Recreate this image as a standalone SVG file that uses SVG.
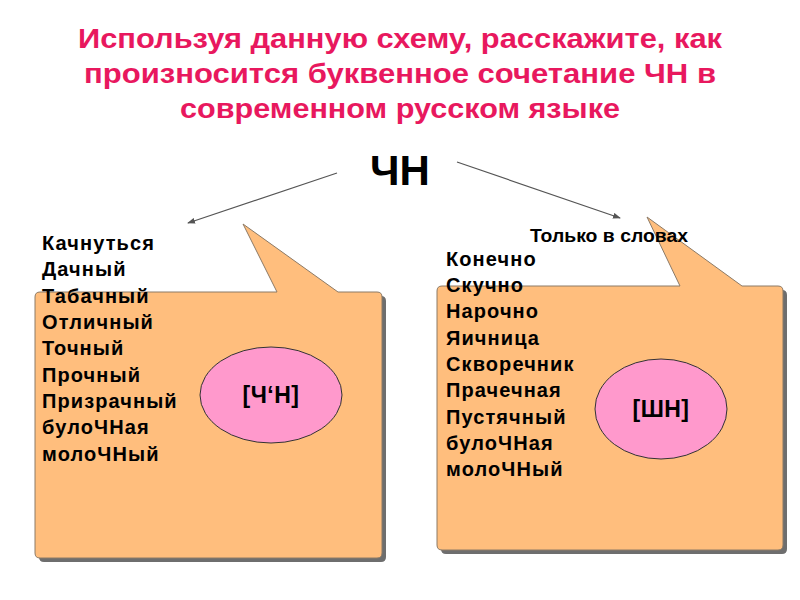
<svg xmlns="http://www.w3.org/2000/svg" width="800" height="600" viewBox="0 0 800 600">
<defs>
<style>
.title{font-family:"Liberation Sans",Arial,sans-serif;font-weight:bold;font-size:28px;fill:#E8185E;text-anchor:middle}
.word{font-family:"Liberation Sans",Arial,sans-serif;font-weight:bold;font-size:20px;fill:#000;letter-spacing:1.1px}
.lbl{font-family:"Liberation Sans",Arial,sans-serif;font-weight:bold;font-size:23px;fill:#000;text-anchor:middle;letter-spacing:0.5px}
.box{fill:#FFBE7D;stroke:#8C7A66;stroke-width:1}
.shadow{fill:#6E6E6E}
.ell{fill:#FF99CC;stroke:#333;stroke-width:1}
.conn{stroke:#555;stroke-width:1.2;fill:none;marker-end:url(#ah)}
</style>
<marker id="ah" markerWidth="8" markerHeight="6" refX="7" refY="3" orient="auto" markerUnits="userSpaceOnUse">
<path d="M0,0 L8,3 L0,6 Z" fill="#555"/>
</marker>
</defs>
<rect width="800" height="600" fill="#fff"/>
<g id="title">
<text class="title" x="400" y="48" textLength="644" lengthAdjust="spacingAndGlyphs">Используя данную схему, расскажите, как</text>
<text class="title" x="400" y="83" textLength="632" lengthAdjust="spacingAndGlyphs">произносится буквенное сочетание ЧН в</text>
<text class="title" x="400" y="118" textLength="440" lengthAdjust="spacingAndGlyphs">современном русском языке</text>
</g>
<g id="root">
<text x="400" y="185" font-family="Liberation Sans, Arial, sans-serif" font-weight="bold" font-size="42" text-anchor="middle">ЧН</text>
</g>
<g id="connectors">
<line class="conn" x1="337" y1="173" x2="188" y2="223"/>
<line class="conn" x1="457" y1="162" x2="620" y2="218"/>
</g>
<g id="left-callout">
<path class="shadow" transform="translate(4,4)" d="M40,292 L277,292 L243,224 L338,292 L377,292 Q382,292 382,297 L382,553 Q382,558 377,558 L40,558 Q35,558 35,553 L35,297 Q35,292 40,292 Z"/>
<path class="box" d="M40,292 L277,292 L243,224 L338,292 L377,292 Q382,292 382,297 L382,553 Q382,558 377,558 L40,558 Q35,558 35,553 L35,297 Q35,292 40,292 Z"/>
<ellipse class="ell" cx="271" cy="395" rx="71" ry="48"/>
<text class="lbl" x="271" y="403">[Ч‘Н]</text>
<text class="word" x="42" y="250">Качнуться</text>
<text class="word" x="42" y="276">Дачный</text>
<text class="word" x="42" y="303">Табачный</text>
<text class="word" x="42" y="329">Отличный</text>
<text class="word" x="42" y="355">Точный</text>
<text class="word" x="42" y="382">Прочный</text>
<text class="word" x="42" y="408">Призрачный</text>
<text class="word" x="42" y="434">булоЧНая</text>
<text class="word" x="42" y="461">молоЧНый</text>
</g>
<g id="right-callout">
<path class="shadow" transform="translate(4,4)" d="M442,286 L680,286 L647,217 L742,286 L778,286 Q783,286 783,291 L783,545 Q783,550 778,550 L442,550 Q437,550 437,545 L437,291 Q437,286 442,286 Z"/>
<path class="box" d="M442,286 L680,286 L647,217 L742,286 L778,286 Q783,286 783,291 L783,545 Q783,550 778,550 L442,550 Q437,550 437,545 L437,291 Q437,286 442,286 Z"/>
<ellipse class="ell" cx="661" cy="409" rx="66" ry="50"/>
<text class="lbl" x="661" y="417">[ШН]</text>
<text x="530" y="242" font-family="Liberation Sans, Arial, sans-serif" font-weight="bold" font-size="18" textLength="158" lengthAdjust="spacingAndGlyphs">Только в словах</text>
<text class="word" x="446" y="266">Конечно</text>
<text class="word" x="446" y="292">Скучно</text>
<text class="word" x="446" y="318">Нарочно</text>
<text class="word" x="446" y="345">Яичница</text>
<text class="word" x="446" y="371">Скворечник</text>
<text class="word" x="446" y="397">Прачечная</text>
<text class="word" x="446" y="424">Пустячный</text>
<text class="word" x="446" y="450">булоЧНая</text>
<text class="word" x="446" y="476">молоЧНый</text>
</g>
</svg>
